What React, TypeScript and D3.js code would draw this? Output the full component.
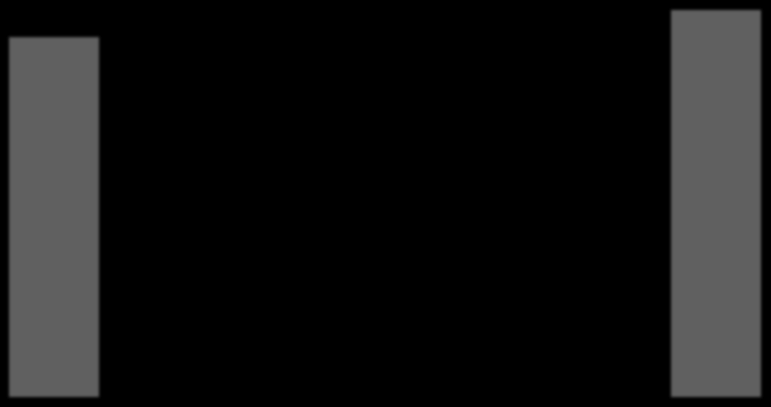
import * as d3 from "d3";
import { useEffect, useRef } from "react";

const categories = ["A", "B"];
const values = [93, 100];

const width = 771;
const height = 407;
const margin = { left: 9, right: 10, top: 10, bottom: 10 };

export default function App() {
  const svgRef = useRef<SVGSVGElement>(null);

  useEffect(() => {
    const svg = d3.select(svgRef.current);
    svg.selectChildren("*").remove();

    svg
      .append("rect")
      .attr("width", width)
      .attr("height", height)
      .attr("fill", "#000");

    // soft edges, like the reference
    svg
      .append("defs")
      .append("filter")
      .attr("id", "soft")
      .attr("x", "-10%")
      .attr("y", "-10%")
      .attr("width", "120%")
      .attr("height", "120%")
      .append("feGaussianBlur")
      .attr("stdDeviation", 1.6);

    const x = d3
      .scaleBand()
      .domain(categories)
      .range([margin.left, width - margin.right])
      .paddingInner(0.864)
      .paddingOuter(0);

    const y = d3
      .scaleLinear()
      .domain([0, 100])
      .range([height - margin.bottom, margin.top]);

    svg
      .append("g")
      .attr("filter", "url(#soft)")
      .selectAll("rect")
      .data(values)
      .join("rect")
      .attr("x", (_, i) => x(categories[i]) as number)
      .attr("y", (d) => y(d))
      .attr("width", x.bandwidth())
      .attr("height", (d) => y(0) - y(d))
      .attr("fill", "#606060");
  }, []);

  return (
    <svg
      ref={svgRef}
      width={width}
      height={height}
      style={{ position: "fixed", left: 0, top: 0, display: "block" }}
    />
  );
}
